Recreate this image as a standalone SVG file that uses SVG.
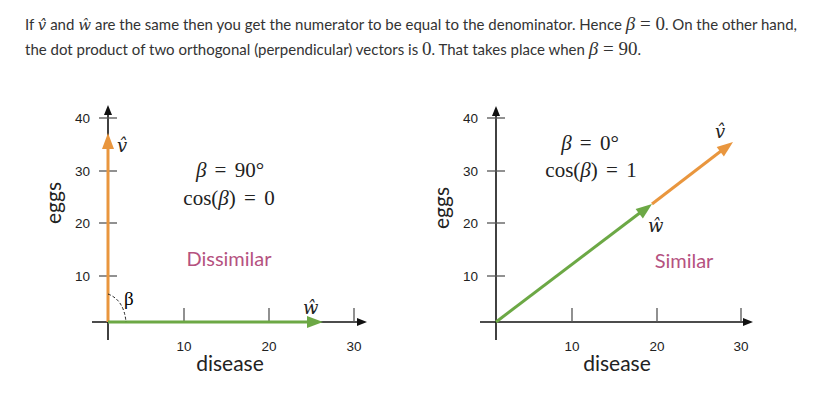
<svg xmlns="http://www.w3.org/2000/svg" width="820" height="409" viewBox="0 0 820 409">
<style>
.body{font-family:Lato,"Noto Sans",sans-serif;font-size:15px;fill:#333}
.m{font-family:"DejaVu Serif","Liberation Serif",serif;font-style:italic;font-size:15px}
.mu{font-family:"Liberation Serif","DejaVu Serif",serif;font-size:19px}
.mi{font-family:"Liberation Serif","DejaVu Serif",serif;font-style:italic;font-size:19px}
.tex{font-family:"Liberation Serif","DejaVu Serif",serif;font-size:21px;fill:#222;text-anchor:middle}
.vec{font-family:"DejaVu Serif","Liberation Serif",serif;font-style:italic;font-size:18px;fill:#222}
.tick{font-family:"Liberation Sans",Arial,sans-serif;font-size:13.5px;fill:#222}
.ax{font-family:Lato,"Open Sans",sans-serif;font-size:21px;fill:#222}
.sim{font-family:Lato,"Open Sans",sans-serif;font-size:20px;fill:#B5527F;text-anchor:middle}
.axis{stroke:#111;stroke-width:1.6;fill:none}
.tk{stroke:#555;stroke-width:1.3}
.org{stroke:#E9963E;stroke-width:3;fill:none}
.grn{stroke:#6CA845;stroke-width:3;fill:none}
</style>
<rect width="820" height="409" fill="#fff"/>
<g id="caption">
<text class="body" x="25" y="30" textLength="772" lengthAdjust="spacing">If <tspan class="m">v̂</tspan> and <tspan class="m">ŵ</tspan> are the same then you get the numerator to be equal to the denominator. Hence <tspan class="mi">β</tspan><tspan class="mu"> = 0</tspan>. On the other hand,</text>
<text class="body" x="25" y="55" textLength="616" lengthAdjust="spacing">the dot product of two orthogonal (perpendicular) vectors is <tspan class="mu">0</tspan>. That takes place when <tspan class="mi">β</tspan><tspan class="mu"> = 90</tspan>.</text>
</g>
<g id="left-plot">
<g id="left-axes">
<line class="axis" x1="92" y1="322" x2="358" y2="322"/>
<polygon points="367,322 357,318 357,326" fill="#111"/>
<line class="axis" x1="108" y1="340" x2="108" y2="114"/>
<polygon points="108,105 104,115 112,115" fill="#111"/>
<line class="tk" x1="99" y1="118" x2="117" y2="118"/>
<line class="tk" x1="99" y1="171" x2="117" y2="171"/>
<line class="tk" x1="99" y1="223" x2="117" y2="223"/>
<line class="tk" x1="99" y1="276" x2="117" y2="276"/>
<line class="tk" x1="184" y1="308" x2="184" y2="322"/>
<line class="tk" x1="269" y1="308" x2="269" y2="322"/>
<line class="tk" x1="354" y1="308" x2="354" y2="322"/>
<text class="tick" x="90" y="123" text-anchor="end">40</text>
<text class="tick" x="90" y="176" text-anchor="end">30</text>
<text class="tick" x="90" y="228" text-anchor="end">20</text>
<text class="tick" x="90" y="281" text-anchor="end">10</text>
<text class="tick" x="184" y="351" text-anchor="middle">10</text>
<text class="tick" x="269" y="351" text-anchor="middle">20</text>
<text class="tick" x="354" y="351" text-anchor="middle">30</text>
<text class="ax" x="230" y="371" text-anchor="middle">disease</text>
<text class="ax" transform="translate(61,203) rotate(-90)" text-anchor="middle" font-size="18">eggs</text>
</g>
<g id="left-v">
<line class="org" x1="108" y1="322" x2="108" y2="147"/>
<polygon points="108,133 102,149 114,149" fill="#E9963E"/>
<text class="vec" x="117" y="152">v̂</text>
</g>
<g id="left-w">
<line class="grn" x1="108" y1="322" x2="309" y2="322"/>
<polygon points="323,322 307,316 307,328" fill="#6CA845"/>
<text class="vec" x="303" y="314">ŵ</text>
</g>
<g id="left-angle">
<path d="M108,294 Q124,300 126,322" fill="none" stroke="#222" stroke-width="1" stroke-dasharray="3,2"/>
<text class="mu" x="124" y="305" font-size="18">β</text>
</g>
<g id="left-labels">
<text class="tex" x="230" y="177"><tspan font-style="italic">β</tspan><tspan dx="3"> = </tspan><tspan dx="3">90°</tspan></text>
<text class="tex" x="229" y="205">cos(<tspan font-style="italic">β</tspan>)<tspan dx="3"> = </tspan><tspan dx="3">0</tspan></text>
<text class="sim" x="229" y="266">Dissimilar</text>
</g>
</g>
<g id="right-plot">
<g id="right-axes">
<line class="axis" x1="480" y1="322" x2="744" y2="322"/>
<polygon points="753,322 743,318 743,326" fill="#111"/>
<line class="axis" x1="496" y1="340" x2="496" y2="115"/>
<polygon points="496,106 492,116 500,116" fill="#111"/>
<line class="tk" x1="487" y1="118" x2="505" y2="118"/>
<line class="tk" x1="487" y1="171" x2="505" y2="171"/>
<line class="tk" x1="487" y1="223" x2="505" y2="223"/>
<line class="tk" x1="487" y1="276" x2="505" y2="276"/>
<line class="tk" x1="572" y1="308" x2="572" y2="322"/>
<line class="tk" x1="657" y1="308" x2="657" y2="322"/>
<line class="tk" x1="741" y1="308" x2="741" y2="322"/>
<text class="tick" x="478" y="123" text-anchor="end">40</text>
<text class="tick" x="478" y="176" text-anchor="end">30</text>
<text class="tick" x="478" y="228" text-anchor="end">20</text>
<text class="tick" x="478" y="281" text-anchor="end">10</text>
<text class="tick" x="572" y="351" text-anchor="middle">10</text>
<text class="tick" x="657" y="351" text-anchor="middle">20</text>
<text class="tick" x="741" y="351" text-anchor="middle">30</text>
<text class="ax" x="617" y="371" text-anchor="middle">disease</text>
<text class="ax" transform="translate(449,208) rotate(-90)" text-anchor="middle" font-size="18">eggs</text>
</g>
<g id="right-w">
<line class="grn" x1="496" y1="322" x2="641" y2="212"/>
<polygon points="652,204 642.9,218.4 635.6,208.9" fill="#6CA845"/>
<text class="vec" x="648" y="232">ŵ</text>
</g>
<g id="right-v">
<line class="org" x1="652" y1="204" x2="721" y2="151"/>
<polygon points="733,142 723.9,156.5 716.7,146.9" fill="#E9963E"/>
<text class="vec" x="715" y="138">v̂</text>
</g>
<g id="right-labels">
<text class="tex" x="590" y="150"><tspan font-style="italic">β</tspan><tspan dx="3"> = </tspan><tspan dx="3">0°</tspan></text>
<text class="tex" x="591" y="177">cos(<tspan font-style="italic">β</tspan>)<tspan dx="3"> = </tspan><tspan dx="3">1</tspan></text>
<text class="sim" x="684" y="268">Similar</text>
</g>
</g>
</svg>
